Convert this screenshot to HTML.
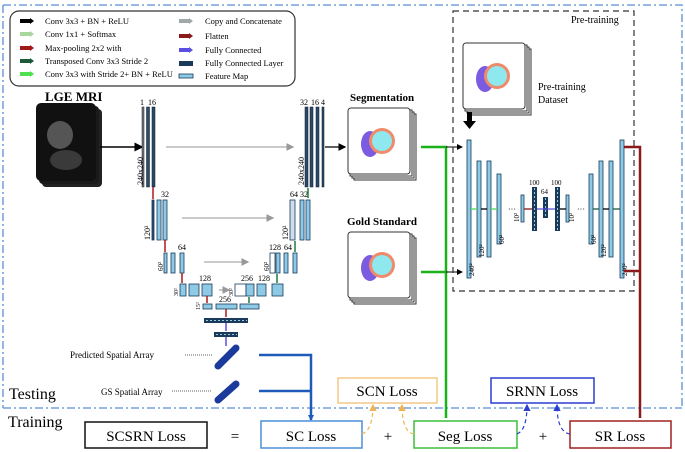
<!DOCTYPE html>
<html><head><meta charset="utf-8"><style>
body{margin:0;background:#fff}
svg{display:block;font-family:"Liberation Serif",serif}
</style></head><body>
<svg width="685" height="452" viewBox="0 0 685 452" xmlns="http://www.w3.org/2000/svg">
<defs>
<marker id="ak" markerWidth="6" markerHeight="6" refX="5" refY="3" orient="auto"><path d="M0,0 L6,3 L0,6z" fill="#000"/></marker>
<marker id="ag" markerWidth="6" markerHeight="6" refX="5" refY="3" orient="auto"><path d="M0,0 L6,3 L0,6z" fill="#999"/></marker>
<marker id="ab" markerWidth="6" markerHeight="6" refX="5" refY="3" orient="auto"><path d="M0,0 L6,3 L0,6z" fill="#1e5bb8"/></marker>
<marker id="agr" markerWidth="6" markerHeight="6" refX="5" refY="3" orient="auto"><path d="M0,0 L6,3 L0,6z" fill="#19b319"/></marker>
<marker id="ar" markerWidth="6" markerHeight="6" refX="5" refY="3" orient="auto"><path d="M0,0 L6,3 L0,6z" fill="#8b1a1a"/></marker>
<marker id="ao" markerWidth="6" markerHeight="6" refX="5" refY="3" orient="auto"><path d="M0,0 L6,3 L0,6z" fill="#f0b550"/></marker>
<marker id="an" markerWidth="6" markerHeight="6" refX="5" refY="3" orient="auto"><path d="M0,0 L6,3 L0,6z" fill="#2a3fcf"/></marker>
<g id="stk"><rect x="6" y="6" width="62" height="66" fill="#fff" stroke="#333"/><rect x="4" y="4" width="62" height="66" fill="#fff" stroke="#333"/><rect x="2" y="2" width="62" height="66" fill="#fff" stroke="#333"/><rect x="0" y="0" width="62" height="66" rx="3" fill="#fff" stroke="#333"/>
<ellipse cx="22" cy="36" rx="9" ry="13" fill="#7b5be0"/><circle cx="34" cy="33" r="13" fill="#f08a6a"/><circle cx="34" cy="33" r="10" fill="#8ee8ee"/></g>
</defs>
<!-- outer dash-dot -->
<path d="M3,5 H682 V408" fill="none" stroke="#5a8fd6" stroke-dasharray="8,3,2,3" stroke-width="1.3"/>
<path d="M3,5 V408" fill="none" stroke="#5a8fd6" stroke-dasharray="8,3,2,3" stroke-width="1.3"/>
<path d="M3,408 H682" fill="none" stroke="#5a8fd6" stroke-dasharray="8,3,2,3" stroke-width="1.3"/>
<!-- legend -->
<rect x="10" y="11" width="285" height="75" rx="9" fill="#fff" stroke="#333" stroke-width="1.2"/>
<g font-size="8.5">
<rect x="20" y="19" width="10" height="4" fill="#000"/><path d="M30,18 l4,3 l-4,3z" fill="#000"/><text x="45" y="24">Conv 3x3 + BN + ReLU</text>
<rect x="20" y="32" width="10" height="4" fill="#a8d8a0"/><path d="M30,31 l4,3 l-4,3z" fill="#a8d8a0"/><text x="45" y="37">Conv 1x1 + Softmax</text>
<rect x="20" y="46" width="10" height="4" fill="#a01818"/><path d="M30,45 l4,3 l-4,3z" fill="#a01818"/><text x="45" y="51">Max-pooling 2x2 with</text>
<rect x="20" y="59" width="10" height="4" fill="#1d5a3a"/><path d="M30,58 l4,3 l-4,3z" fill="#1d5a3a"/><text x="45" y="64">Transposed Conv 3x3 Stride 2</text>
<rect x="20" y="72" width="10" height="4" fill="#4fe04f"/><path d="M30,71 l4,3 l-4,3z" fill="#4fe04f"/><text x="45" y="77">Conv 3x3 with Stride 2+ BN + ReLU</text>
<rect x="179" y="19" width="10" height="4" fill="#a0a8a8"/><path d="M189,18 l4,3 l-4,3z" fill="#a0a8a8"/><text x="205" y="24">Copy and Concatenate</text>
<rect x="179" y="34" width="10" height="4" fill="#8b1a1a"/><path d="M189,33 l4,3 l-4,3z" fill="#8b1a1a"/><text x="205" y="39">Flatten</text>
<rect x="179" y="48" width="10" height="4" fill="#5a4fe0"/><path d="M189,47 l4,3 l-4,3z" fill="#5a4fe0"/><text x="205" y="53">Fully Connected</text>
<rect x="179" y="61" width="14" height="5" fill="#1a3a5c"/><text x="205" y="66">Fully Connected Layer</text>
<rect x="179" y="74" width="14" height="4" fill="#8ecae6" stroke="#1a3a5c" stroke-width=".8"/><text x="205" y="79">Feature Map</text>
</g>
<!-- LGE MRI -->
<text x="45" y="101" font-size="13" font-weight="bold">LGE MRI</text>
<rect x="42" y="109" width="60" height="78" fill="#222" rx="4"/>
<rect x="39" y="106" width="60" height="78" fill="#1a1a1a" rx="4"/>
<rect x="36" y="103" width="60" height="78" fill="#111" rx="5"/>
<ellipse cx="60" cy="135" rx="13" ry="14" fill="#555"/><ellipse cx="66" cy="160" rx="16" ry="10" fill="#3a3a3a"/>
<line x1="100" y1="147" x2="142" y2="147" stroke="#000" stroke-width="1.5" marker-end="url(#ak)"/>
<!-- U-net level1 -->
<g fill="#2a4a6a" stroke="#0a1a2a" stroke-width=".5">
<rect x="142" y="107" width="2" height="80" fill="#777"/><rect x="146.5" y="107" width="3" height="80"/><rect x="152" y="107" width="3" height="80"/>
<rect x="305" y="107" width="3" height="80"/><rect x="310" y="107" width="3" height="80"/><rect x="316" y="107" width="3" height="80"/><rect x="322" y="107" width="2" height="80"/>
</g>
<g font-size="8"><text x="140" y="105">1</text><text x="148" y="105">16</text>
<text x="300" y="105">32</text><text x="311" y="105">16</text><text x="321" y="105">4</text></g>
<text transform="translate(143,185) rotate(-90)" font-size="8">240x240</text>
<text transform="translate(304,185) rotate(-90)" font-size="8">240x240</text>
<line x1="166" y1="147" x2="293" y2="147" stroke="#aaa" stroke-width="1.3" marker-end="url(#ag)"/>
<line x1="325" y1="147" x2="345" y2="147" stroke="#000" stroke-width="1.3" marker-end="url(#ak)"/>
<!-- level2 -->
<line x1="153" y1="187" x2="153" y2="199" stroke="#b01818" stroke-width="1.5"/>
<g fill="#8ecae6" stroke="#1a3a5c" stroke-width=".8">
<rect x="152" y="200" width="2" height="40" fill="#2a4a6a"/><rect x="157" y="200" width="4" height="40"/><rect x="163" y="200" width="4" height="40"/>
<rect x="290" y="200" width="5" height="40" fill="#cde"/><rect x="300" y="200" width="4" height="40"/><rect x="306" y="200" width="4" height="40"/>
</g>
<text x="161" y="197" font-size="8">32</text><text x="290" y="197" font-size="8">64</text><text x="300" y="197" font-size="8">32</text>
<text transform="translate(150,240) rotate(-90)" font-size="8">120²</text><text transform="translate(288,240) rotate(-90)" font-size="8">120²</text>
<line x1="182" y1="218" x2="273" y2="218" stroke="#aaa" stroke-width="1.3" marker-end="url(#ag)"/>
<line x1="308" y1="198" x2="308" y2="188" stroke="#1d7a3a" stroke-width="1.5"/>
<!-- level3 -->
<line x1="165" y1="240" x2="165" y2="252" stroke="#b01818" stroke-width="1.5"/>
<g fill="#8ecae6" stroke="#1a3a5c" stroke-width=".8">
<rect x="164" y="253" width="3" height="20"/><rect x="171" y="253" width="4" height="20"/><rect x="180" y="253" width="4" height="20"/>
<rect x="270" y="253" width="5" height="20" fill="#fff"/><rect x="276" y="253" width="4" height="20"/><rect x="284" y="253" width="4" height="20"/><rect x="293" y="253" width="4" height="20"/>
</g>
<text x="178" y="250" font-size="8">64</text><text x="269" y="250" font-size="8">128</text><text x="284" y="250" font-size="8">64</text>
<text transform="translate(163,271) rotate(-90)" font-size="7">60²</text><text transform="translate(269,271) rotate(-90)" font-size="7">60²</text>
<line x1="204" y1="262" x2="248" y2="262" stroke="#aaa" stroke-width="1.3" marker-end="url(#ag)"/>
<line x1="295" y1="252" x2="295" y2="241" stroke="#1d7a3a" stroke-width="1.5"/>
<!-- level4 -->
<line x1="182" y1="273" x2="182" y2="283" stroke="#b01818" stroke-width="1.5"/>
<g fill="#8ecae6" stroke="#1a3a5c" stroke-width=".8">
<rect x="180" y="284" width="6" height="12"/><rect x="189" y="284" width="10" height="12"/><rect x="202" y="284" width="10" height="12"/>
<rect x="235" y="284" width="11" height="12" fill="#fff"/><rect x="246" y="284" width="8" height="12"/><rect x="257" y="284" width="9" height="12"/><rect x="272" y="284" width="11" height="12"/>
</g>
<text x="199" y="281" font-size="8">128</text><text x="241" y="281" font-size="8">256</text><text x="258" y="281" font-size="8">128</text>
<text transform="translate(178,296) rotate(-90)" font-size="6">30²</text><text transform="translate(233,296) rotate(-90)" font-size="6">30²</text>
<line x1="219" y1="290" x2="229" y2="290" stroke="#aaa" stroke-width="1.3" marker-end="url(#ag)"/>
<line x1="277" y1="283" x2="277" y2="274" stroke="#1d7a3a" stroke-width="1.5"/>
<!-- level5 -->
<line x1="207" y1="296" x2="207" y2="303" stroke="#b01818" stroke-width="1.5"/>
<g fill="#8ecae6" stroke="#1a3a5c" stroke-width=".8">
<rect x="203" y="304" width="9" height="5"/><rect x="216" y="304" width="21" height="5"/><rect x="240" y="304" width="19" height="5"/>
</g>
<text x="219" y="302" font-size="8">256</text><text transform="translate(200,310) rotate(-90)" font-size="6">15²</text>
<line x1="249" y1="303" x2="249" y2="297" stroke="#1d7a3a" stroke-width="1.5"/>
<line x1="226" y1="309" x2="226" y2="317" stroke="#b01818" stroke-width="1.5"/>
<rect x="204" y="318" width="44" height="5" fill="#1a3a5c"/>
<line x1="206" y1="320.5" x2="247" y2="320.5" stroke="#9cd" stroke-dasharray="2,2"/>
<line x1="226" y1="323" x2="226" y2="331" stroke="#5a4fe0" stroke-width="1.5"/>
<rect x="214" y="332" width="24" height="5" fill="#1a3a5c"/>
<line x1="216" y1="334.5" x2="237" y2="334.5" stroke="#9cd" stroke-dasharray="2,2"/>
<line x1="226" y1="337" x2="226" y2="346" stroke="#5a4fe0" stroke-width="1.5"/>
<!-- spatial arrays -->
<g font-size="9"><text x="70" y="358">Predicted Spatial Array</text><text x="101" y="395">GS Spatial Array</text></g>
<line x1="185" y1="355" x2="212" y2="355" stroke="#666" stroke-dasharray="1,1"/>
<line x1="172" y1="391" x2="212" y2="391" stroke="#666" stroke-dasharray="1,1"/>
<line x1="218" y1="366" x2="236" y2="348" stroke="#1a3a9c" stroke-width="7" stroke-linecap="round"/>
<line x1="218" y1="400" x2="236" y2="384" stroke="#1a3a9c" stroke-width="7" stroke-linecap="round"/>
<path d="M259,355 H311 V420 M259,391 H311" fill="none" stroke="#1e5bb8" stroke-width="2.5"/>
<line x1="311" y1="415" x2="311" y2="420" stroke="#1e5bb8" stroke-width="1" marker-end="url(#ab)"/>
<!-- segmentation -->
<text x="350" y="101" font-size="11" font-weight="bold">Segmentation</text>
<use href="#stk" x="348" y="108"/>
<text x="347" y="225" font-size="11" font-weight="bold">Gold Standard</text>
<use href="#stk" x="348" y="232"/>
<path d="M421,147 H446 V418 M421,272 H446" fill="none" stroke="#19b319" stroke-width="2.5"/>
<line x1="446" y1="147" x2="462" y2="147" stroke="#000" stroke-width="1" marker-end="url(#ak)"/>
<line x1="446" y1="272" x2="462" y2="272" stroke="#000" stroke-width="1" marker-end="url(#ak)"/>
<!-- pretraining box -->
<rect x="453" y="11" width="181" height="280" fill="none" stroke="#333" stroke-width="1.2" stroke-dasharray="6,4"/>
<text x="571" y="23" font-size="10">Pre-training</text>
<use href="#stk" x="463" y="43"/>
<text x="538" y="90" font-size="10">Pre-training</text><text x="538" y="103" font-size="10">Dataset</text>
<rect x="467" y="112" width="5" height="10" fill="#000"/><path d="M463,121 h13 l-6.5,8z" fill="#000"/>
<g fill="#8ecae6" stroke="#1a3a5c" stroke-width=".8">
<rect x="467" y="140" width="4" height="138"/><rect x="477" y="161" width="4" height="96"/><rect x="487" y="161" width="4" height="96"/><rect x="497" y="174" width="4" height="70"/>
<rect x="521" y="195" width="3" height="27"/><rect x="566" y="195" width="3" height="27"/>
<rect x="589" y="174" width="4" height="70"/><rect x="599" y="161" width="4" height="96"/><rect x="609" y="161" width="4" height="96"/><rect x="620" y="140" width="4" height="138"/>
</g>
<g fill="#1a3a5c"><rect x="532" y="187" width="5" height="44"/><rect x="543" y="197" width="5" height="21"/><rect x="555" y="187" width="5" height="44"/></g>
<g stroke="#9cd" stroke-dasharray="2,2"><line x1="534.5" y1="188" x2="534.5" y2="230"/><line x1="545.5" y1="198" x2="545.5" y2="217"/><line x1="557.5" y1="188" x2="557.5" y2="230"/></g>
<g font-size="7"><text x="529" y="185">100</text><text x="541" y="194">64</text><text x="551" y="185">100</text></g>
<text x="508" y="212" font-size="8">···</text><text x="577" y="212" font-size="8">···</text>
<g stroke-width="1.3"><line x1="471" y1="209" x2="477" y2="209" stroke="#4fe04f"/><line x1="481" y1="209" x2="487" y2="209" stroke="#000"/><line x1="491" y1="209" x2="497" y2="209" stroke="#4fe04f"/>
<line x1="593" y1="209" x2="599" y2="209" stroke="#1d5a3a"/><line x1="603" y1="209" x2="609" y2="209" stroke="#000"/><line x1="613" y1="209" x2="620" y2="209" stroke="#1d5a3a"/>
<line x1="524" y1="209" x2="532" y2="209" stroke="#8b1a1a"/><line x1="537" y1="209" x2="555" y2="209" stroke="#5a4fe0"/><line x1="560" y1="209" x2="566" y2="209" stroke="#000"/></g>
<g font-size="7"><text transform="translate(474,276) rotate(-90)">240²</text><text transform="translate(484,257) rotate(-90)">120²</text><text transform="translate(504,244) rotate(-90)">60²</text><text transform="translate(519,222) rotate(-90)">10²</text><text transform="translate(574,222) rotate(-90)">10²</text>
<text transform="translate(596,244) rotate(-90)">60²</text><text transform="translate(606,257) rotate(-90)">120²</text><text transform="translate(627,276) rotate(-90)">240²</text></g>
<path d="M624,147 H640 V418 M624,271 H640" fill="none" stroke="#8b1a1a" stroke-width="2.5"/>
<!-- testing/training -->
<text x="9" y="399" font-size="16">Testing</text>
<text x="8" y="427" font-size="16">Training</text>
<g font-size="15" font-family="Liberation Serif,serif">
<rect x="85" y="422" width="122" height="26" fill="#fff" stroke="#111" stroke-width="1.5"/><text x="146" y="441" text-anchor="middle">SCSRN Loss</text>
<text x="235" y="441" text-anchor="middle">=</text>
<rect x="261" y="421" width="101" height="27" fill="#fff" stroke="#4a90d9" stroke-width="1.5"/><text x="311" y="441" text-anchor="middle">SC Loss</text>
<text x="388" y="441" text-anchor="middle">+</text>
<rect x="414" y="421" width="103" height="27" fill="#fff" stroke="#3ac03a" stroke-width="1.5"/><text x="465" y="441" text-anchor="middle">Seg Loss</text>
<text x="543" y="441" text-anchor="middle">+</text>
<rect x="570" y="421" width="101" height="27" fill="#fff" stroke="#a02020" stroke-width="1.5"/><text x="620" y="441" text-anchor="middle">SR Loss</text>
<rect x="338" y="378" width="99" height="25" fill="#fff" stroke="#f0c070" stroke-width="1.3"/><text x="387" y="396" text-anchor="middle">SCN Loss</text>
<rect x="491" y="378" width="103" height="25" fill="#fff" stroke="#2a3fcf" stroke-width="1.5"/><text x="542" y="396" text-anchor="middle">SRNN Loss</text>
</g>
<g fill="none" stroke-dasharray="4,3" stroke-width="1.2">
<path d="M362,434 Q373,430 373,405" stroke="#f0b550" marker-end="url(#ao)"/>
<path d="M414,434 Q402,432 402,405" stroke="#f0b550" marker-end="url(#ao)"/>
<path d="M517,434 Q527,430 527,405" stroke="#2a3fcf" marker-end="url(#an)"/>
<path d="M570,434 Q557,432 557,405" stroke="#2a3fcf" marker-end="url(#an)"/>
</g>
</svg>
</body></html>
